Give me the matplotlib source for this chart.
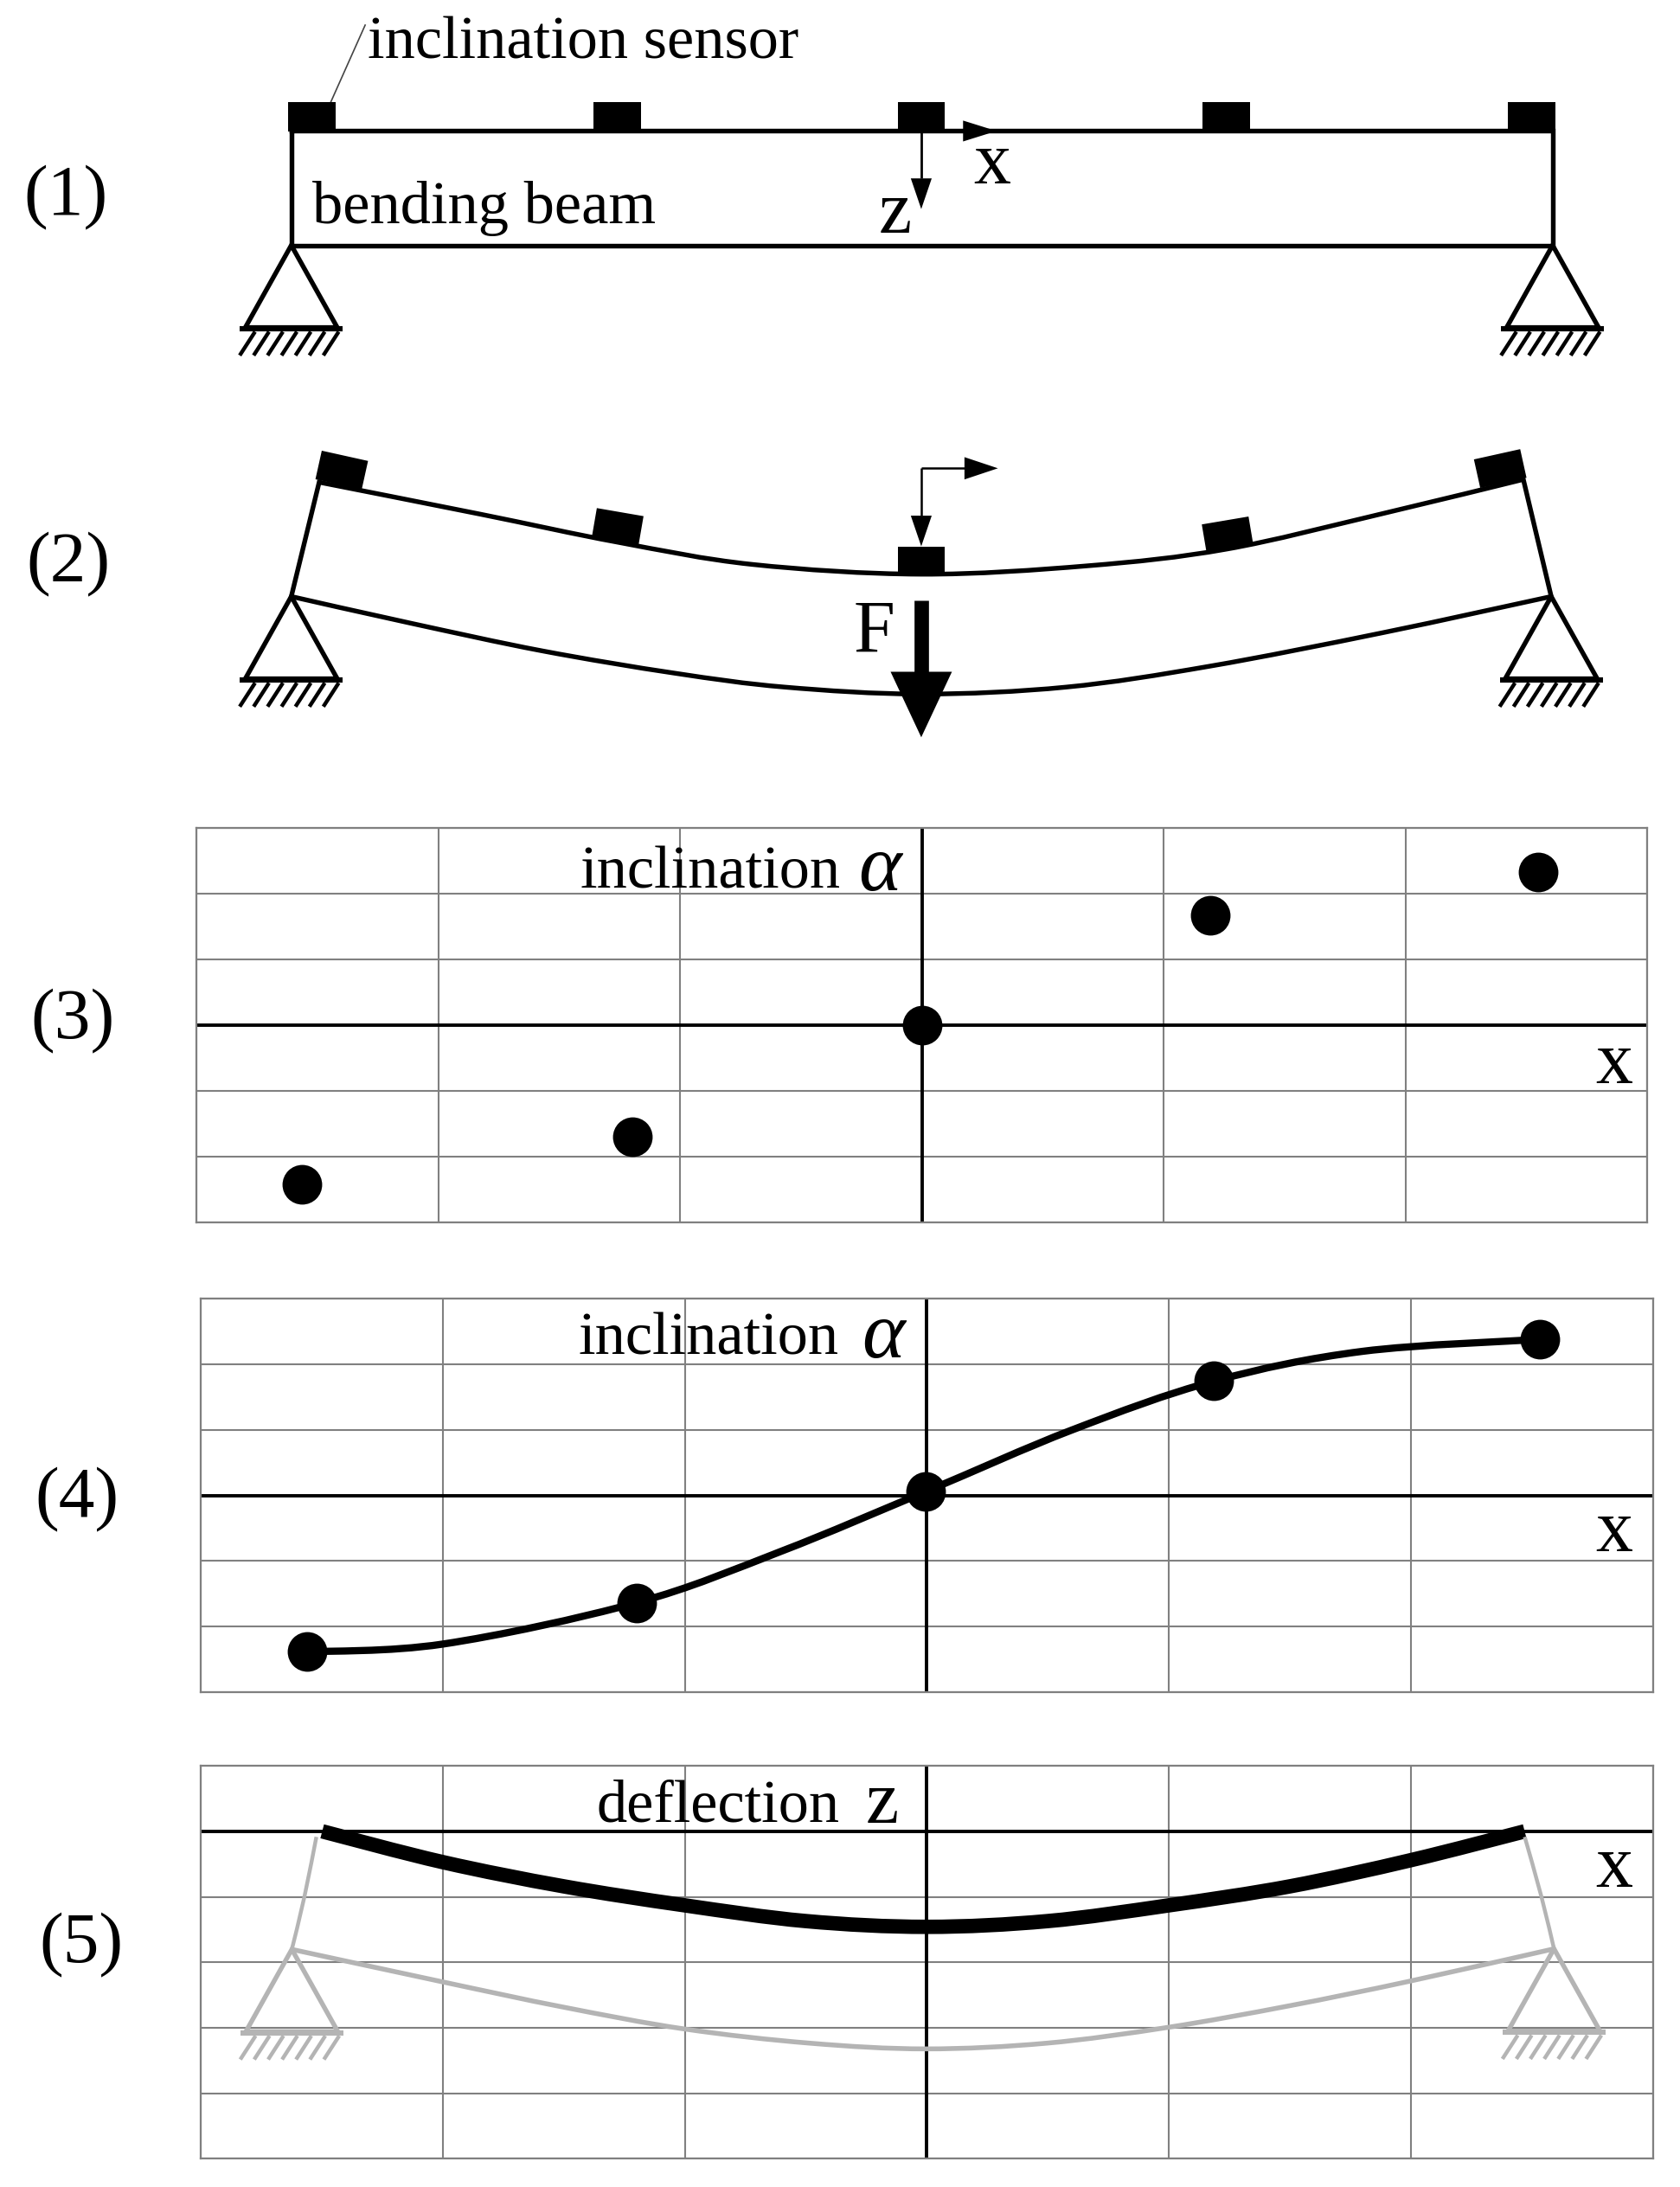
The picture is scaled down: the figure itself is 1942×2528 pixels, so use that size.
import numpy as np
import matplotlib
matplotlib.use('Agg')
import matplotlib.pyplot as plt
from matplotlib.path import Path
from matplotlib.patches import PathPatch, Polygon

plt.rcParams['font.family'] = ['Liberation Serif', 'DejaVu Serif']

W, H = 1205.4, 1569.2  # tegneflate, alt under er lest av i disse enhetene

# bjelke (1)
beam_x = [209, 1114]
beam_top = 94
beam_bottom = 176
sensor_x = [224, 443, 661, 880, 1099]

# bjelke (2), boeyd
bent_top_x = [229, 345, 443, 540, 661, 780, 880, 990, 1093]
bent_top_y = [346, 369, 389, 405, 412, 406, 394, 369, 344]
bent_bottom_x = [209, 294, 389, 484, 563, 661, 765, 868, 992, 1113]
bent_bottom_y = [428, 447, 467, 483, 493, 498, 493, 478, 454, 428]
bent_sensor_x = [245.2, 443.2, 661, 880.8, 1076.4]
bent_sensor_y = [337.3, 377.8, 403, 383.8, 336.2]
bent_sensor_angle = [-12.5, -9.8, 0, 9.6, 12.5]

# helning, (3)
incl_x = [-2.565, -1.199, 0.0, 1.193, 2.548]
incl_y = [-2.417, -1.696, 0.0, 1.675, 2.332]

# helning, (4)
fit_point_x = [-2.562, -1.198, -0.006, 1.186, 2.534]
fit_point_y = [-2.383, -1.638, 0.064, 1.745, 2.383]
fit_curve_x = [-2.564, -2.0, -1.2, -0.6, 0.0, 0.6, 1.186, 1.8, 2.534]
fit_curve_y = [-2.388, -2.269, -1.639, -0.85, 0.066, 1.0, 1.745, 2.2, 2.383]

# nedboeyning, (5)
defl_x = [-2.498, -2.0, -1.5, -1.0, -0.5, 0.0, 0.5, 1.0, 1.5, 2.0, 2.47]
defl_z = [0.0, 0.47, 0.84, 1.13, 1.37, 1.458, 1.37, 1.13, 0.84, 0.44, 0.0]
ghost_x = [209.4, 317, 403.5, 491, 581, 664.6, 751, 838.3, 925, 1011.6, 1115]
ghost_y = [1398.7, 1421.9, 1440, 1455.8, 1466, 1470.1, 1466, 1454.6, 1439.2, 1421.5, 1398.3]
ghost_left_x = [227, 218.4, 209.4]
ghost_left_y = [1318, 1361, 1398.7]
ghost_right_x = [1094, 1106, 1115]
ghost_right_y = [1318, 1361, 1398.3]

grid_ticks = [-3, -2, -1, 0, 1, 2, 3]

row_labels = ['(1)', '(2)', '(3)', '(4)', '(5)']
row_label_x = [47, 49, 52, 55, 58]
row_label_y = [142, 405, 733, 1076, 1396]


def smooth_path(xs, ys):
    # Catmull-Rom gjennom punktene, som bezier
    p = np.column_stack([xs, ys]).astype(float)
    q = np.vstack([p[0], p, p[-1]])
    verts = [p[0]]
    codes = [Path.MOVETO]
    for i in range(1, len(q) - 2):
        verts += [q[i] + (q[i+1] - q[i-1]) / 6, q[i+1] - (q[i+2] - q[i]) / 6, q[i+1]]
        codes += [Path.CURVE4] * 3
    return Path(verts, codes)


def draw_curve(ax, xs, ys, lw, color='black', zorder=3):
    ax.add_patch(PathPatch(smooth_path(xs, ys), fc='none', ec=color, lw=lw,
                           capstyle='butt', zorder=zorder))


def draw_support(ax, x, y, color='black'):
    ax.add_patch(Polygon([(x, y), (x - 33, y + 59), (x + 33, y + 59)], closed=True,
                         fc='none', ec=color, lw=3.9, joinstyle='miter'))
    ax.plot([x - 37, x + 37], [y + 60, y + 60], color=color, lw=4.4, solid_capstyle='butt')
    for off in np.arange(-26, 35, 10):
        ax.plot([x + off, x + off - 11], [y + 62, y + 79], color=color, lw=3.2,
                solid_capstyle='butt')


def draw_sensor(ax, x, y, angle):
    a = np.radians(angle)
    c, s = np.cos(a), np.sin(a)
    corners = [(-17, -10.5), (17, -10.5), (17, 10.5), (-17, 10.5)]
    ax.add_patch(Polygon([(x + c*u + s*v, y - s*u + c*v) for u, v in corners],
                         closed=True, fc='black', ec='none', zorder=4))


def draw_arrow(ax, x0, y0, x1, y1, head_len, head_w, lw):
    d = np.array([x1 - x0, y1 - y0], dtype=float)
    d /= np.hypot(*d)
    n = np.array([-d[1], d[0]])
    tip = np.array([x1, y1], dtype=float)
    base = tip - d * head_len
    ax.plot([x0, base[0]], [y0, base[1]], color='black', lw=lw, solid_capstyle='butt', zorder=5)
    ax.add_patch(Polygon([tip, base + n * head_w / 2, base - n * head_w / 2],
                         closed=True, fc='black', ec='none', zorder=5))


def grid_axes(left, right, top, bottom, ylim, zero):
    ax = fig.add_axes([left / W, 1 - bottom / H, (right - left) / W, (bottom - top) / H])
    ax.set_xlim(-3, 3)
    ax.set_ylim(*ylim)
    ax.set_xticks(grid_ticks)
    ax.set_yticks(np.arange(min(ylim), max(ylim) + 1))
    ax.tick_params(length=0, labelbottom=False, labelleft=False)
    ax.grid(True, color='#808080', lw=1.5)
    ax.set_axisbelow(True)
    for s in ax.spines.values():
        s.set_color('#808080')
        s.set_linewidth(1.6)
    ax.axhline(zero, color='black', lw=2.8, zorder=2)
    ax.axvline(0, color='black', lw=2.8, zorder=2)
    ax.patch.set_alpha(0)
    return ax


fig = plt.figure(figsize=(19.42, 25.28), dpi=100)

# panelene med rutenett
ax3 = grid_axes(141, 1182, 594, 877, (-3, 3), 0)
ax3.plot(incl_x, incl_y, 'o', color='black', ms=33, mec='none', zorder=4)

ax4 = grid_axes(144, 1186, 932, 1214, (-3, 3), 0)
draw_curve(ax4, fit_curve_x, fit_curve_y, 6.0)
ax4.plot(fit_point_x, fit_point_y, 'o', color='black', ms=33, mec='none', zorder=4)

ax5 = grid_axes(144, 1186, 1267, 1549, (5, -1), 0)
draw_curve(ax5, defl_x, defl_z, 12.0, zorder=4)

# alt annet i felles tegneflate
ax = fig.add_axes([0, 0, 1, 1])
ax.set_xlim(0, W)
ax.set_ylim(H, 0)
ax.axis('off')
ax.patch.set_alpha(0)

# (1)
ax.plot([beam_x[0], beam_x[1], beam_x[1], beam_x[0], beam_x[0]],
        [beam_top, beam_top, beam_bottom, beam_bottom, beam_top],
        color='black', lw=3.9, solid_joinstyle='miter')
for sx in sensor_x:
    draw_sensor(ax, sx, beam_top - 10, 0)
draw_support(ax, beam_x[0], beam_bottom)
draw_support(ax, beam_x[1], beam_bottom)
ax.plot([262, 237], [18, 74], color='#444444', lw=1.2)
draw_arrow(ax, 661, 94, 715, 94, 24, 15, 2.0)
draw_arrow(ax, 661, 94, 661, 150, 22, 15, 2.0)

# (2)
draw_curve(ax, bent_top_x, bent_top_y, 3.9)
draw_curve(ax, bent_bottom_x, bent_bottom_y, 3.9)
ax.plot([bent_top_x[0], bent_bottom_x[0]], [bent_top_y[0], bent_bottom_y[0]], color='black', lw=3.9)
ax.plot([bent_top_x[-1], bent_bottom_x[-1]], [bent_top_y[-1], bent_bottom_y[-1]], color='black', lw=3.9)
for sx, sy, sa in zip(bent_sensor_x, bent_sensor_y, bent_sensor_angle):
    draw_sensor(ax, sx, sy, sa)
draw_support(ax, bent_bottom_x[0], bent_bottom_y[0])
draw_support(ax, bent_bottom_x[-1], bent_bottom_y[-1])
draw_arrow(ax, 661, 336, 716, 336, 24, 16, 1.8)
draw_arrow(ax, 661, 336, 661, 392, 22, 15, 1.8)
draw_arrow(ax, 661, 431, 661, 529, 47, 44, 12)

# skyggen i (5)
ghost = '#b4b4b4'
draw_curve(ax, ghost_x, ghost_y, 4.0, color=ghost, zorder=2)
draw_curve(ax, ghost_left_x, ghost_left_y, 3.2, color=ghost, zorder=2)
draw_curve(ax, ghost_right_x, ghost_right_y, 3.2, color=ghost, zorder=2)
draw_support(ax, ghost_x[0], ghost_y[0], color=ghost)
draw_support(ax, ghost_x[-1], ghost_y[-1], color=ghost)

# tekst
fs = 50.7
ax.text(264, 31.5, 'inclination sensor', fontsize=fs, va='center', ha='left')
ax.text(224, 149.5, 'bending beam', fontsize=fs, va='center', ha='left')
ax.text(712, 119, 'x', fontsize=62, va='center', ha='center')
ax.text(642, 154, 'z', fontsize=62, va='center', ha='center')
ax.text(627, 455, 'F', fontsize=62, va='center', ha='center')
ax.text(416, 626.5, 'inclination', fontsize=fs, va='center', ha='left')
ax.text(631, 625, 'α', fontsize=68, style='italic', va='center', ha='center')
ax.text(1158, 764, 'x', fontsize=62, va='center', ha='center')
ax.text(415, 961.5, 'inclination', fontsize=fs, va='center', ha='left')
ax.text(634, 960, 'α', fontsize=68, style='italic', va='center', ha='center')
ax.text(1158, 1100, 'x', fontsize=62, va='center', ha='center')
ax.text(428, 1296.5, 'deflection', fontsize=fs, va='center', ha='left')
ax.text(633, 1295, 'z', fontsize=62, va='center', ha='center')
ax.text(1158, 1341, 'x', fontsize=62, va='center', ha='center')
for lab, lx, ly in zip(row_labels, row_label_x, row_label_y):
    ax.text(lx, ly, lab, fontsize=60, va='center', ha='center')

fig.savefig('out.png', dpi=100)
